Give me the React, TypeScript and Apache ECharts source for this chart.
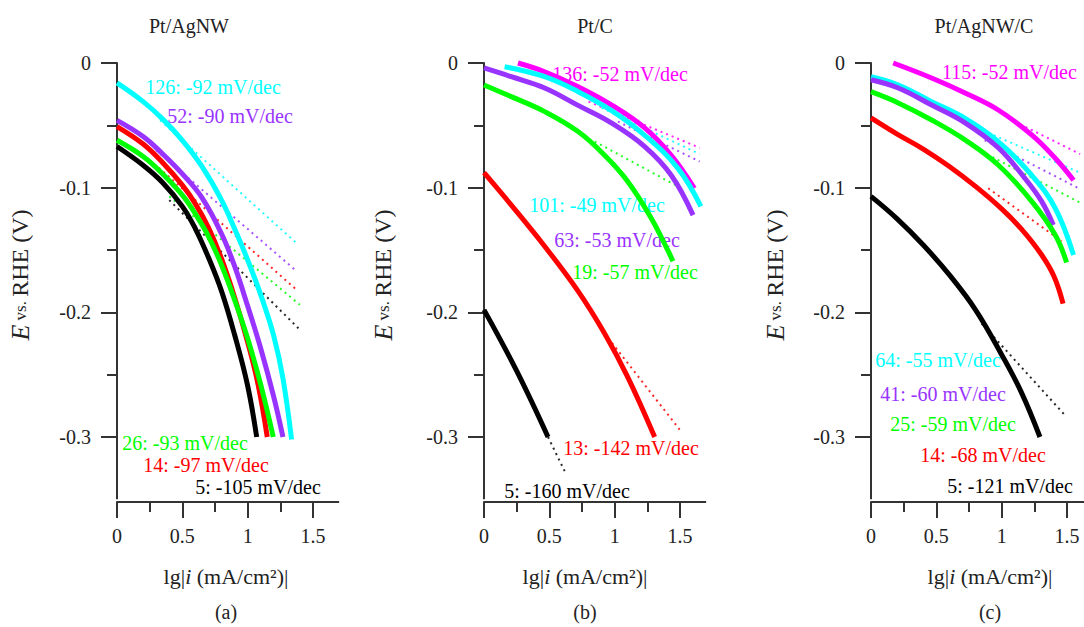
import React, { useEffect, useRef } from "react";
import * as echarts from "echarts";

type P = [number, number][];

// ---------- Panel (a) Pt/AgNW ----------
const aCyan: P = [[0, -0.016], [0.2, -0.031], [0.35, -0.045], [0.5, -0.062], [0.65, -0.083], [0.8, -0.11], [0.9, -0.133], [1.0, -0.158], [1.1, -0.186], [1.2, -0.219], [1.27, -0.253], [1.336, -0.302]];
const aPurple: P = [[0, -0.046], [0.2, -0.059], [0.35, -0.073], [0.5, -0.089], [0.65, -0.108], [0.8, -0.137], [0.9, -0.163], [1.0, -0.195], [1.1, -0.229], [1.2, -0.268], [1.27, -0.3]];
const aRed: P = [[0, -0.051], [0.2, -0.065], [0.35, -0.08], [0.5, -0.098], [0.6, -0.113], [0.7, -0.132], [0.8, -0.157], [0.9, -0.188], [1.0, -0.224], [1.08, -0.258], [1.15, -0.3]];
const aGreen: P = [[0, -0.062], [0.2, -0.075], [0.35, -0.089], [0.5, -0.106], [0.6, -0.121], [0.7, -0.139], [0.8, -0.162], [0.9, -0.19], [1.0, -0.221], [1.1, -0.258], [1.196, -0.3]];
const aBlack: P = [[0, -0.067], [0.2, -0.082], [0.35, -0.096], [0.5, -0.115], [0.6, -0.133], [0.7, -0.156], [0.8, -0.183], [0.9, -0.218], [1.0, -0.259], [1.069, -0.3]];
const aCyanFit: P = [[0.33, -0.046], [1.375, -0.1446]];
const aPurpleFit: P = [[0.3, -0.07], [1.375, -0.167]];
const aRedFit: P = [[0.32, -0.084], [1.375, -0.182]];
const aGreenFit: P = [[0.4, -0.107], [1.4, -0.194]];
const aBlackFit: P = [[0.4, -0.11], [1.4, -0.214]];
const aLabels = ["126: -92 mV/dec", "52: -90 mV/dec", "26: -93 mV/dec", "14: -97 mV/dec", "5: -105 mV/dec"];

// ---------- Panel (b) Pt/C ----------
const bMagenta: P = [[0.26, 0], [0.464, -0.007], [0.72, -0.019], [0.974, -0.0335], [1.23, -0.052], [1.433, -0.074], [1.61, -0.1005]];
const bCyan: P = [[0.158, -0.003], [0.464, -0.011], [0.72, -0.023], [0.974, -0.038], [1.23, -0.058], [1.484, -0.0845], [1.66, -0.115]];
const bPurple: P = [[0, -0.004], [0.209, -0.011], [0.464, -0.02], [0.72, -0.034], [0.974, -0.048], [1.23, -0.067], [1.433, -0.09], [1.6, -0.122]];
const bGreen: P = [[0, -0.0176], [0.209, -0.027], [0.464, -0.039], [0.72, -0.055], [0.923, -0.074], [1.1, -0.095], [1.28, -0.1245], [1.41, -0.151], [1.446, -0.159]];
const bRed: P = [[0, -0.088], [0.209, -0.114], [0.464, -0.147], [0.72, -0.183], [0.923, -0.217], [1.1, -0.252], [1.306, -0.3]];
const bBlack: P = [[0, -0.198], [0.25, -0.247], [0.49, -0.3]];
const bMagentaFit: P = [[0.8, -0.031], [1.65, -0.068]];
const bCyanFit: P = [[0.9, -0.036], [1.65, -0.073]];
const bPurpleFit: P = [[1.025, -0.047], [1.65, -0.079]];
const bGreenFit: P = [[0.847, -0.063], [1.484, -0.099]];
const bRedFit: P = [[0.923, -0.217], [1.497, -0.294]];
const bBlackFit: P = [[0.49, -0.3], [0.62, -0.328]];
const bLabels = ["136: -52 mV/dec", "101: -49 mV/dec", "63: -53 mV/dec", "19: -57 mV/dec", "13: -142 mV/dec", "5: -160 mV/dec"];

// ---------- Panel (c) Pt/AgNW/C ----------
const cMagenta: P = [[0.17, 0], [0.464, -0.012], [0.72, -0.024], [0.974, -0.0377], [1.23, -0.0577], [1.41, -0.0764], [1.55, -0.094]];
const cCyan: P = [[0, -0.011], [0.209, -0.0176], [0.464, -0.031], [0.72, -0.0444], [0.974, -0.063], [1.23, -0.09], [1.41, -0.1165], [1.55, -0.154]];
const cPurple: P = [[0, -0.0134], [0.209, -0.02], [0.464, -0.0337], [0.72, -0.048], [0.974, -0.068], [1.178, -0.0925], [1.306, -0.111], [1.395, -0.13]];
const cGreen: P = [[0, -0.023], [0.209, -0.032], [0.464, -0.0457], [0.72, -0.0617], [0.974, -0.0818], [1.23, -0.111], [1.41, -0.138], [1.497, -0.16]];
const cRed: P = [[0, -0.044], [0.2, -0.057], [0.4, -0.069], [0.6, -0.083], [0.8, -0.099], [1.0, -0.117], [1.15, -0.133], [1.3, -0.153], [1.4, -0.171], [1.47, -0.193]];
const cBlack: P = [[0, -0.107], [0.2, -0.125], [0.4, -0.146], [0.6, -0.17], [0.8, -0.198], [1.0, -0.234], [1.15, -0.264], [1.293, -0.3]];
const cMagentaFit: P = [[1.1, -0.047], [1.6, -0.073]];
const cCyanFit: P = [[0.897, -0.056], [1.6, -0.088]];
const cPurpleFit: P = [[0.87, -0.062], [1.6, -0.101]];
const cGreenFit: P = [[0.847, -0.071], [1.6, -0.112]];
const cRedFit: P = [[0.897, -0.1005], [1.46, -0.143]];
const cBlackFit: P = [[0.847, -0.209], [1.48, -0.282]];
const cLabels = ["115: -52 mV/dec", "64: -55 mV/dec", "41: -60 mV/dec", "25: -59 mV/dec", "14: -68 mV/dec", "5: -121 mV/dec"];

const titles = ["Pt/AgNW", "Pt/C", "Pt/AgNW/C"];
const panelTags = ["(a)", "(b)", "(c)"];
const xDataMax = [1.7, 1.7, 1.6];

const CYAN = "#00FFFF";
const PURPLE = "#9933FF";
const RED = "#FF0000";
const GREEN = "#00FF00";
const BLACK = "#000000";
const MAGENTA = "#FF00FF";
const AXIS = "#333333";
const TXT = "#222222";
const FONT = '"Liberation Serif", "Times New Roman", serif';

// layout (pixels)
const gridLeft = [117, 484, 871];
const GRID_TOP = 63;
const GRID_W = 196; // visible ticked range x 0..1.5
const GRID_H = 374; // visible ticked range y 0..-0.3
const PX_PER_X = GRID_W / 1.5;
const DATA_H = (GRID_H * 0.35) / 0.3; // full y range 0..-0.35
const X_AXIS_Y = 502;
const titleX = [189, 595, 984];
const xNameX = [226, 585, 990];
const yNameX = [20, 383, 775];

export default function App() {
  const ref = useRef<HTMLDivElement>(null);
  useEffect(() => {
    if (!ref.current) return;
    const chart = echarts.init(ref.current, undefined, { renderer: "svg" });

    const panels = [
      {
        curves: [[aCyan, CYAN], [aPurple, PURPLE], [aRed, RED], [aGreen, GREEN], [aBlack, BLACK]],
        fits: [[aCyanFit, CYAN], [aPurpleFit, PURPLE], [aRedFit, RED], [aGreenFit, GREEN], [aBlackFit, BLACK]],
      },
      {
        curves: [[bMagenta, MAGENTA], [bCyan, CYAN], [bPurple, PURPLE], [bGreen, GREEN], [bRed, RED], [bBlack, BLACK]],
        fits: [[bMagentaFit, MAGENTA], [bCyanFit, CYAN], [bPurpleFit, PURPLE], [bGreenFit, GREEN], [bRedFit, RED], [bBlackFit, BLACK]],
      },
      {
        curves: [[cMagenta, MAGENTA], [cCyan, CYAN], [cPurple, PURPLE], [cGreen, GREEN], [cRed, RED], [cBlack, BLACK]],
        fits: [[cMagentaFit, MAGENTA], [cCyanFit, CYAN], [cPurpleFit, PURPLE], [cGreenFit, GREEN], [cRedFit, RED], [cBlackFit, BLACK]],
      },
    ];

    const grid: any[] = [];
    const xAxis: any[] = [];
    const yAxis: any[] = [];
    const series: any[] = [];
    const axisLineStyle = { color: AXIS, width: 2 };
    const graphic: any[] = [];

    panels.forEach((p, i) => {
      const left = gridLeft[i];
      const dataW = xDataMax[i] * PX_PER_X;
      // visible axes grid (ticks 0..1.5, 0..-0.3)
      grid.push({ left, top: GRID_TOP, width: GRID_W, height: GRID_H, outerBoundsMode: "none", containLabel: false });
      // data grid (full range), hidden axes
      grid.push({ left, top: GRID_TOP, width: dataW, height: DATA_H, outerBoundsMode: "none", containLabel: false });

      xAxis.push({
        type: "value", gridIndex: i * 2, min: 0, max: 1.5, interval: 0.5, position: "bottom",
        offset: X_AXIS_Y - (GRID_TOP + GRID_H),
        axisLine: { show: true, onZero: false, lineStyle: axisLineStyle },
        axisTick: { show: true, length: 16, lineStyle: axisLineStyle },
        minorTick: { show: true, splitNumber: 2, length: 10, lineStyle: axisLineStyle },
        axisLabel: { show: true, margin: 24, fontFamily: FONT, fontSize: 20, color: TXT },
        splitLine: { show: false },
        minorSplitLine: { show: false },
      });
      xAxis.push({ type: "value", gridIndex: i * 2 + 1, min: 0, max: xDataMax[i], show: false });
      yAxis.push({
        type: "value", gridIndex: i * 2, min: -0.3, max: 0, interval: 0.1, position: "left",
        axisLine: { show: true, onZero: false, lineStyle: axisLineStyle },
        axisTick: { show: true, length: 16, lineStyle: axisLineStyle },
        minorTick: { show: true, splitNumber: 2, length: 10, lineStyle: axisLineStyle },
        axisLabel: { show: true, margin: 26, fontFamily: FONT, fontSize: 20, color: TXT },
        splitLine: { show: false },
        minorSplitLine: { show: false },
      });
      yAxis.push({ type: "value", gridIndex: i * 2 + 1, min: -0.35, max: 0, show: false });

      const ai = i * 2 + 1;
      p.fits.forEach(([d, c]) => {
        series.push({
          type: "line", xAxisIndex: ai, yAxisIndex: ai, data: d, showSymbol: false, clip: false,
          lineStyle: { color: c, width: 2, type: [2, 4], opacity: 0.85 }, z: 2, silent: true,
        });
      });
      p.curves.forEach(([d, c]) => {
        series.push({
          type: "line", xAxisIndex: ai, yAxisIndex: ai, data: d, showSymbol: false, smooth: 0.4, clip: false,
          lineStyle: { color: c, width: 5 }, z: 3, silent: true,
        });
      });
      // axis lines continue past the last tick (to 1.7 and -0.35)
      graphic.push({
        type: "line", silent: true,
        shape: { x1: left, y1: GRID_TOP + GRID_H, x2: left, y2: GRID_TOP + DATA_H },
        style: { stroke: AXIS, lineWidth: 2 },
      });
      graphic.push({
        type: "line", silent: true,
        shape: { x1: left + GRID_W - 1, y1: X_AXIS_Y, x2: left + 1.7 * PX_PER_X, y2: X_AXIS_Y },
        style: { stroke: AXIS, lineWidth: 2 },
      });
    });

    const txt = (text: string, x: number, y: number, fill: string, size = 20, align = "center", rich?: any, rotation = 0) => ({
      type: "text", x, y, rotation, silent: true,
      style: {
        text, x: 0, y: 0, fill, fontFamily: FONT, fontSize: size,
        align, verticalAlign: "middle", textAlign: align, textVerticalAlign: "middle", rich,
      },
    });

    titles.forEach((t, i) => graphic.push(txt(t, titleX[i], 26, TXT)));
    panelTags.forEach((t, i) => graphic.push(txt(t, xNameX[i], 612, TXT)));
    xNameX.forEach((x) =>
      graphic.push(txt("lg|{i|i} (mA/cm²)|", x, 576, TXT, 22, "center", { i: { fontStyle: "italic", fontFamily: FONT, fontSize: 22 } }))
    );
    yNameX.forEach((x) =>
      graphic.push(
        txt("{e|E}{s| vs. }{r|RHE (V)}", x, 275, TXT, 22, "center", {
          e: { fontStyle: "italic", fontFamily: FONT, fontSize: 26 },
          s: { fontFamily: FONT, fontSize: 17 },
          r: { fontFamily: FONT, fontSize: 24 },
        }, Math.PI / 2)
      )
    );

    const aPos = [[213, 87], [230, 116], [185, 443], [206, 465], [258, 487]];
    const aCol = [CYAN, PURPLE, GREEN, RED, BLACK];
    aLabels.forEach((t, k) => graphic.push(txt(t, aPos[k][0], aPos[k][1], aCol[k])));
    const bPos = [[620, 74], [597, 205], [617, 240], [635, 272], [631, 448], [567, 491]];
    const bCol = [MAGENTA, CYAN, PURPLE, GREEN, RED, BLACK];
    bLabels.forEach((t, k) => graphic.push(txt(t, bPos[k][0], bPos[k][1], bCol[k])));
    const cPos = [[942, 72], [938, 360], [943, 394], [953, 424], [983, 455], [1010, 486]];
    const cCol = [MAGENTA, CYAN, PURPLE, GREEN, RED, BLACK];
    cLabels.forEach((t, k) =>
      graphic.push(txt(t, cPos[k][0], cPos[k][1], cCol[k], 20, k === 0 ? "left" : "center"))
    );

    chart.setOption({
      animation: false,
      backgroundColor: "#ffffff",
      grid, xAxis, yAxis, series, graphic,
    });
    return () => chart.dispose();
  }, []);

  return (
    <div
      ref={ref}
      style={{ position: "fixed", left: 0, top: 0, width: 1084, height: 627, background: "#fff" }}
    />
  );
}
